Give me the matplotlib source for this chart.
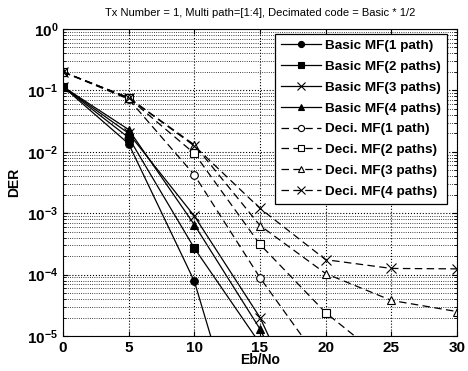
import matplotlib.pyplot as plt
from matplotlib.ticker import LogLocator, NullFormatter

plt.rcParams['font.family'] = ['Liberation Sans', 'DejaVu Sans']

ebno = [0, 5, 10, 15, 20, 25, 30]

# Basic matched filter
basic_1 = [0.115, 0.0135, 7.8e-5, 2e-8]
basic_2 = [0.115, 0.017, 2.7e-4, 7.5e-6]
basic_3 = [0.115, 0.020, 9.0e-4, 2.0e-5, 1e-7]
basic_4 = [0.115, 0.023, 6.5e-4, 1.3e-5, 8e-8]

# Decimated matched filter
deci_1 = [0.2, 0.072, 0.0042, 8.9e-5, 2.9e-6]
deci_2 = [0.2, 0.075, 0.0094, 3.1e-4, 2.4e-5, 3.3e-6]
deci_3 = [0.2, 0.076, 0.013, 6.3e-4, 1.04e-4, 3.8e-5, 2.5e-5]
deci_4 = [0.2, 0.076, 0.0125, 1.2e-3, 1.75e-4, 1.26e-4, 1.24e-4]

labels = ["Basic MF(1 path)", "Basic MF(2 paths)", "Basic MF(3 paths)", "Basic MF(4 paths)",
          "Deci. MF(1 path)", "Deci. MF(2 paths)", "Deci. MF(3 paths)", "Deci. MF(4 paths)"]

fig = plt.figure(figsize=(4.68, 3.71), dpi=100)
ax = fig.add_axes([63 / 468, 1 - 336 / 371, (457 - 63) / 468, (336 - 29) / 371])

series = [basic_1, basic_2, basic_3, basic_4, deci_1, deci_2, deci_3, deci_4]
markers = ['o', 's', 'x', '^', 'o', 's', '^', 'x']
for i, (y, m, lab) in enumerate(zip(series, markers, labels)):
    basic = i < 4
    ax.semilogy(ebno[:len(y)], y, color='black', linestyle='-' if basic else (0, (6, 3.5)),
                linewidth=0.9, marker=m, markersize=5.5 if m != 'x' else 6.5,
                markerfacecolor='black' if basic else 'white', markeredgecolor='black',
                markeredgewidth=0.8, label=lab)

ax.set_xlim(0, 30)
ax.set_ylim(1e-5, 1)
ax.set_xticks(ebno)
ax.yaxis.set_major_locator(LogLocator(base=10, numticks=10))
ax.yaxis.set_minor_locator(LogLocator(base=10, subs=range(2, 10), numticks=10))
ax.yaxis.set_minor_formatter(NullFormatter())
ax.grid(True, which='major', linestyle=':', color='black', linewidth=0.8)
ax.grid(True, which='minor', axis='y', linestyle=':', color='black', linewidth=0.6)
ax.tick_params(which='both', direction='in', top=True, right=True, labelsize=11)
for t in ax.get_xticklabels() + ax.get_yticklabels():
    t.set_fontweight('bold')

ax.set_title("Tx Number = 1, Multi path=[1:4], Decimated code = Basic * 1/2", fontsize=8, pad=9)
ax.set_xlabel("Eb/No", fontsize=10, fontweight='bold', labelpad=-1)
ax.set_ylabel("DER", fontsize=10, fontweight='bold', labelpad=4)

leg = ax.legend(loc='upper right', prop={'weight': 'bold', 'size': 9.7}, fancybox=False,
                framealpha=1, edgecolor='black', handlelength=3, labelspacing=0.62,
                borderaxespad=0.35, borderpad=0.45, handletextpad=0.3, markerscale=0.8,
                bbox_to_anchor=(0.987, 1.0))
leg.get_frame().set_linewidth(0.9)

fig.savefig("out.png", dpi=100)
